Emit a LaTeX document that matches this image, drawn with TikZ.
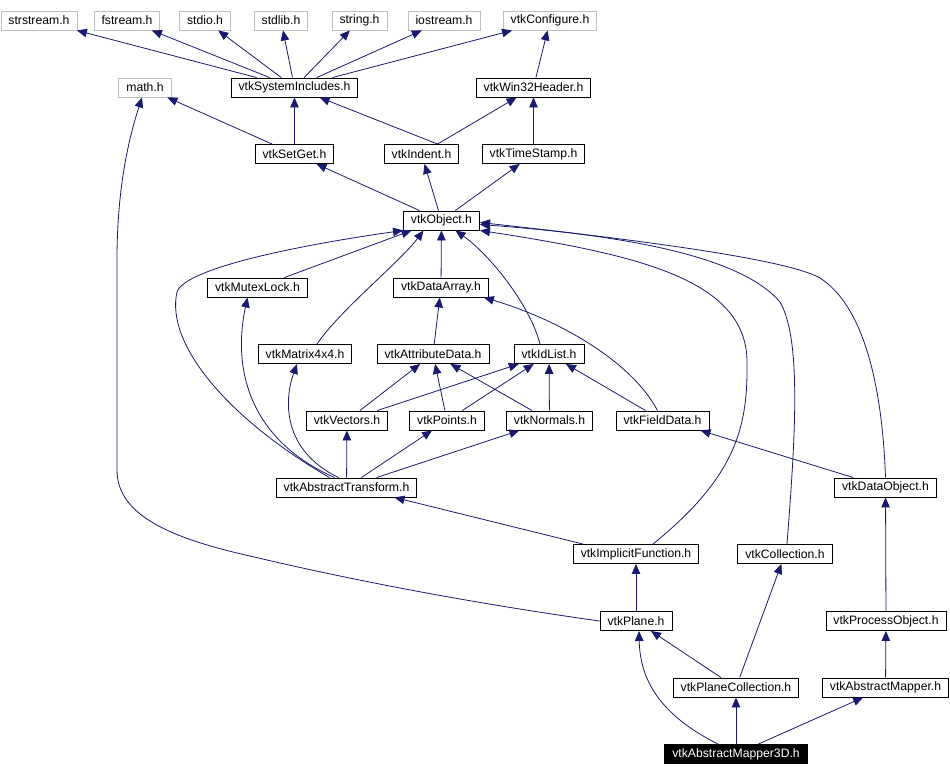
\documentclass[tikz,border=0pt]{standalone}
\usepackage{fontspec}
\setsansfont{Liberation Sans}
\usetikzlibrary{arrows.meta}

\definecolor{edgeblue}{RGB}{25,25,112}
\definecolor{sysgray}{RGB}{191,191,191}

\begin{document}
\begin{tikzpicture}[x=1pt,y=-1pt,font=\sffamily\fontsize{12.2}{14}\selectfont,>={Triangle[length=10pt,width=8.5pt]},
 hdr/.style={draw,line width=.9pt,inner xsep=7.5pt,inner ysep=0pt,minimum height=19pt},
 sys/.style={hdr,draw=sysgray},
 cur/.style={hdr,fill=black,text=white},
 arr/.style={->,draw=edgeblue,line width=.8pt}]

\useasboundingbox (0,0) rectangle (950,776);

\node[sys,anchor=west] (strstream) at (0.5,20.5) {strstream.h};
\node[sys] (fstream) at (127,20.5) {fstream.h};
\node[sys] (stdio) at (205,20.5) {stdio.h};
\node[sys] (stdlib) at (281,20.5) {stdlib.h};
\node[sys] (string) at (359.5,20.5) {string.h};
\node[sys] (iostream) at (444,20.5) {iostream.h};
\node[sys] (config) at (550,20.5) {vtkConfigure.h};

\node[sys] (mathh) at (145,87.5) {math.h};
\node[hdr] (sysinc) at (294.5,87.5) {vtkSystemIncludes.h};
\node[hdr] (win32) at (533.5,87.5) {vtkWin32Header.h};

\node[hdr] (setget) at (294.5,154) {vtkSetGet.h};
\node[hdr] (indent) at (421.5,154) {vtkIndent.h};
\node[hdr] (tstamp) at (533.5,154) {vtkTimeStamp.h};

\node[hdr] (object) at (441.5,220.5) {vtkObject.h};

\node[hdr] (mutex) at (257.5,287.5) {vtkMutexLock.h};
\node[hdr] (darray) at (441,287.5) {vtkDataArray.h};

\node[hdr] (matrix) at (305,354) {vtkMatrix4x4.h};
\node[hdr] (attrib) at (433,354) {vtkAttributeData.h};
\node[hdr] (idlist) at (549,354) {vtkIdList.h};

\node[hdr] (vectors) at (347,420.5) {vtkVectors.h};
\node[hdr] (points) at (447,420.5) {vtkPoints.h};
\node[hdr] (normals) at (549.5,420.5) {vtkNormals.h};
\node[hdr] (fdata) at (662.5,420.5) {vtkFieldData.h};

\node[hdr] (atrans) at (346.5,487.5) {vtkAbstractTransform.h};
\node[hdr] (dobject) at (885.5,487.5) {vtkDataObject.h};

\node[hdr] (implicit) at (636,554) {vtkImplicitFunction.h};
\node[hdr] (collect) at (785,554) {vtkCollection.h};

\node[hdr] (plane) at (636,621) {vtkPlane.h};
\node[hdr] (procobj) at (886,621) {vtkProcessObject.h};

\node[hdr] (planecol) at (736,687.5) {vtkPlaneCollection.h};
\node[hdr] (amapper) at (885.5,687.5) {vtkAbstractMapper.h};

\node[cur] (amapper3d) at (736,754) {vtkAbstractMapper3D.h};

\foreach \n in {strstream,fstream,stdio,stdlib,string,iostream,config}{\draw[arr] (sysinc) -- (\n);}
\draw[arr] (win32) -- (config);
\draw[arr] (setget) -- (mathh);
\draw[arr] (setget) -- (sysinc);
\draw[arr] ([xshift=16pt]indent.north) -- (sysinc);
\draw[arr] ([xshift=16pt]indent.north) -- (win32);
\draw[arr] (tstamp) -- (win32);
\foreach \n in {setget,indent,tstamp}{\draw[arr] (object) -- (\n);}

\draw[arr] (mutex) -- ([xshift=-30pt]object.south);
\draw[arr] ([xshift=12pt]matrix.north) .. controls (340,310) and (400,262) .. ([xshift=-18pt]object.south);
\draw[arr] (darray) -- (object);
\draw[arr] ([xshift=-9pt]idlist.north) .. controls (530,305) and (490,255) .. ([xshift=14pt]object.south);
\draw[arr] (attrib) -- (darray);
\draw[arr] ([xshift=-5pt]fdata.north) .. controls (632,362) and (560,320) .. ([xshift=-5pt]darray.south east);
\draw[arr] (fdata) -- (idlist);
\foreach \n in {vectors,points,normals}{\draw[arr] (\n) -- (attrib); \draw[arr] (\n) -- (idlist);}

\draw[arr] ([xshift=-17pt]atrans.north) .. controls (230,420) and (165,345) .. (177,292) .. controls (185,268) and (300,245) .. (object.south west);
\draw[arr] ([xshift=-12pt]atrans.north) .. controls (250,440) and (232,370) .. ([xshift=-10pt]mutex.south);
\draw[arr] ([xshift=-8pt]atrans.north) .. controls (282,450) and (284,400) .. ([xshift=-8pt]matrix.south);
\foreach \n in {vectors,points,normals}{\draw[arr] (atrans) -- (\n);}

\draw[arr] (dobject) -- ([xshift=38pt]fdata.south);
\draw[arr] (dobject.north) .. controls (882,380) and (862,305) .. (820,278) .. controls (785,258) and (620,238) .. ([yshift=-2pt]object.east);
\draw[arr] ([xshift=2pt]collect.north) .. controls (795,440) and (802,340) .. (780,302) .. controls (740,255) and (620,235) .. ([yshift=-4pt]object.east);
\draw[arr] ([xshift=17pt]implicit.north) .. controls (738,475) and (748,425) .. (747,360) .. controls (745,280) and (640,255) .. (object.south east);
\draw[arr] ([xshift=-53pt]implicit.north) -- ([xshift=48pt]atrans.south);
\draw[arr] (plane) -- (implicit);
\draw[arr] (plane.west) .. controls (450,600) and (330,575) .. (250,556) .. controls (170,538) and (117,515) .. (117,470) -- (117,260) .. controls (117,200) and (125,150) .. ([xshift=-3pt]mathh.south);
\draw[arr] (procobj) -- (dobject);
\draw[arr] (planecol) -- (plane);
\draw[arr] (planecol) -- (collect);
\draw[arr] (amapper) -- (procobj);
\draw[arr] ([xshift=-18pt]amapper3d.north) .. controls (660,715) and (640,680) .. ([xshift=3pt]plane.south);
\draw[arr] (amapper3d) -- (planecol);
\draw[arr] (amapper3d) -- (amapper);

\end{tikzpicture}
\end{document}
